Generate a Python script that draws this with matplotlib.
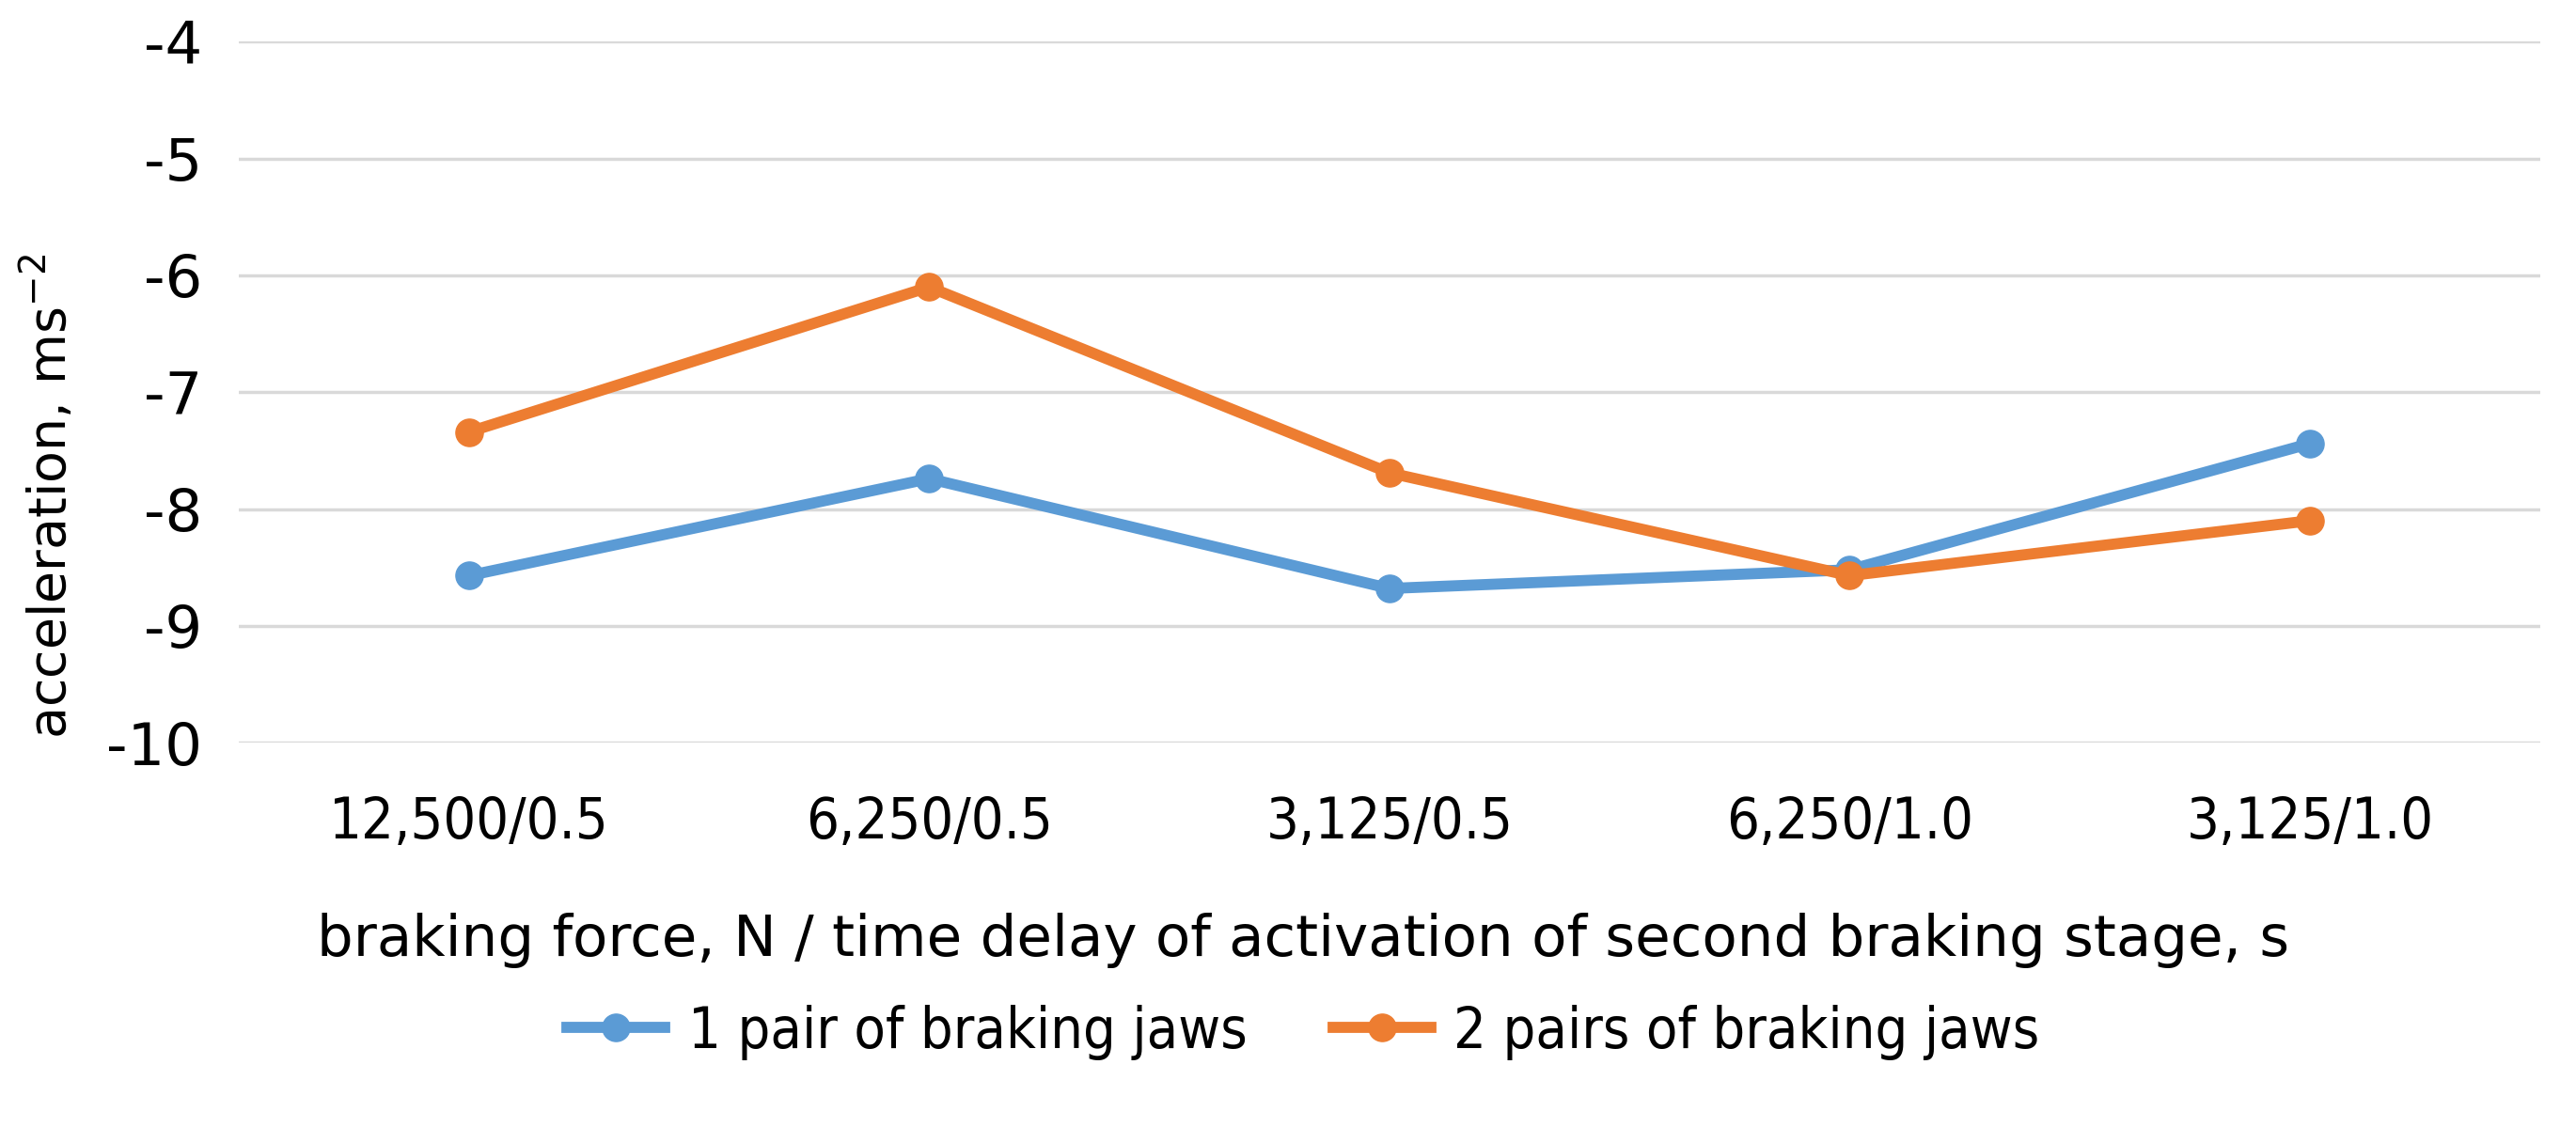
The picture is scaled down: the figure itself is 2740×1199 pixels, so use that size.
import matplotlib
matplotlib.use('Agg')
import matplotlib.pyplot as plt

# donnees
categories = ['12,500/0.5', '6,250/0.5', '3,125/0.5', '6,250/1.0', '3,125/1.0']
one_pair = [-8.57, -7.74, -8.68, -8.52, -7.44]
two_pairs = [-7.34, -6.10, -7.69, -8.57, -8.10]
y_ticks = [-10, -9, -8, -7, -6, -5, -4]

BLUE = '#5B9BD5'
ORANGE = '#ED7D31'
font = ['DejaVu Sans']

fig = plt.figure(figsize=(27.4, 11.99), dpi=100)
ax = fig.add_axes([0.0927, 0.341, 0.8933, 0.622])

x = list(range(len(categories)))
ax.plot(x, one_pair, color=BLUE, lw=8.5, marker='o', ms=21, label='1 pair of braking jaws')
ax.plot(x, two_pairs, color=ORANGE, lw=8.5, marker='o', ms=21, label='2 pairs of braking jaws')

ax.set_xlim(-0.5, len(categories) - 0.5)
ax.set_ylim(-10, -4)
ax.set_yticks(y_ticks)
ax.set_yticklabels([str(t) for t in y_ticks], family=font, fontsize=45)
ax.set_xticks(x)
ax.set_xticklabels(categories, family=font, fontsize=44, stretch='condensed')
ax.tick_params(axis='both', length=0)
ax.tick_params(axis='x', pad=40)
ax.tick_params(axis='y', pad=28)
ax.grid(axis='y', color='#D9D9D9', lw=2.5)
ax.set_axisbelow(True)
for s in ax.spines.values():
    s.set_visible(False)

fig.text(0.506, 1 - 1000 / 1199, 'braking force, N / time delay of activation of second braking stage, s',
         ha='center', va='center', family=font, fontsize=44)
fig.text(0.019, 1 - 528 / 1199, 'acceleration, ms$^{-2}$', rotation=90, ha='center', va='center',
         family='DejaVu Sans', fontsize=40)

fig.legend(loc='center', bbox_to_anchor=(0.506, 1 - 1098 / 1199), ncol=2, frameon=False,
           prop={'family': font, 'size': 44, 'stretch': 'condensed'},
           handlelength=1.7, columnspacing=1.5, handletextpad=0.4)

fig.savefig('out.png', dpi=100, facecolor='white')
